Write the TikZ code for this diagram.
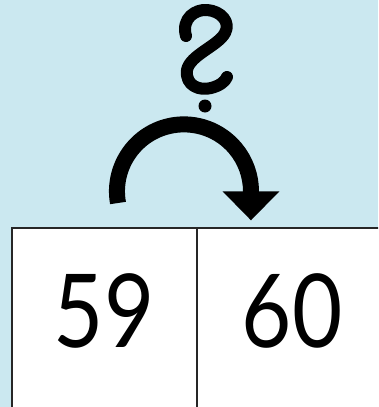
\documentclass[tikz,border=0pt]{standalone}
\usepackage{fontspec}
\newfontfamily\digitfont{Lato}
\usetikzlibrary{arrows.meta}
\definecolor{skyback}{RGB}{203,232,240}

\begin{document}
\begin{tikzpicture}[x=1pt,y=-1pt,
    cell/.style={draw=black!85, line width=1.8, fill=white, rectangle, anchor=north west,
      minimum width=185pt, minimum height=200pt, inner sep=0pt},
    numeral/.style={font=\digitfont\fontsize{102}{102}\selectfont, xscale=0.85, transform shape, inner sep=0pt},
    pen/.style={line width=12, line cap=round, line join=round}]
  \useasboundingbox (0,0) rectangle (378,407);
  \clip (0,0) rectangle (378,407);
  \fill[skyback] (0,0) rectangle (378,407);
  \node[cell] (left) at (11,227) {};
  \node[cell] (right) at (196,227) {};
  \node[numeral] (leftnum) at (104,311) {59};
  \node[numeral] (rightnum) at (292,311) {60};
  \coordinate (hopstart) at (118,203);
  \draw[line width=16, -{Triangle[width=55pt,length=29pt]}]
    (hopstart) arc[start angle=170, end angle=360, radius=67] -- ++(0,29);
  \draw[pen] (186,36) .. controls (181,18) and (196,9) .. (207,10)
    .. controls (221,11) and (231,22) .. (225,33)
    .. controls (218,46) and (190,55) .. (187,70)
    .. controls (185,86) and (200,91) .. (211,88)
    .. controls (219,86) and (225,82) .. (227,77);
  \fill (205,106) circle (6.5);
\end{tikzpicture}
\end{document}
